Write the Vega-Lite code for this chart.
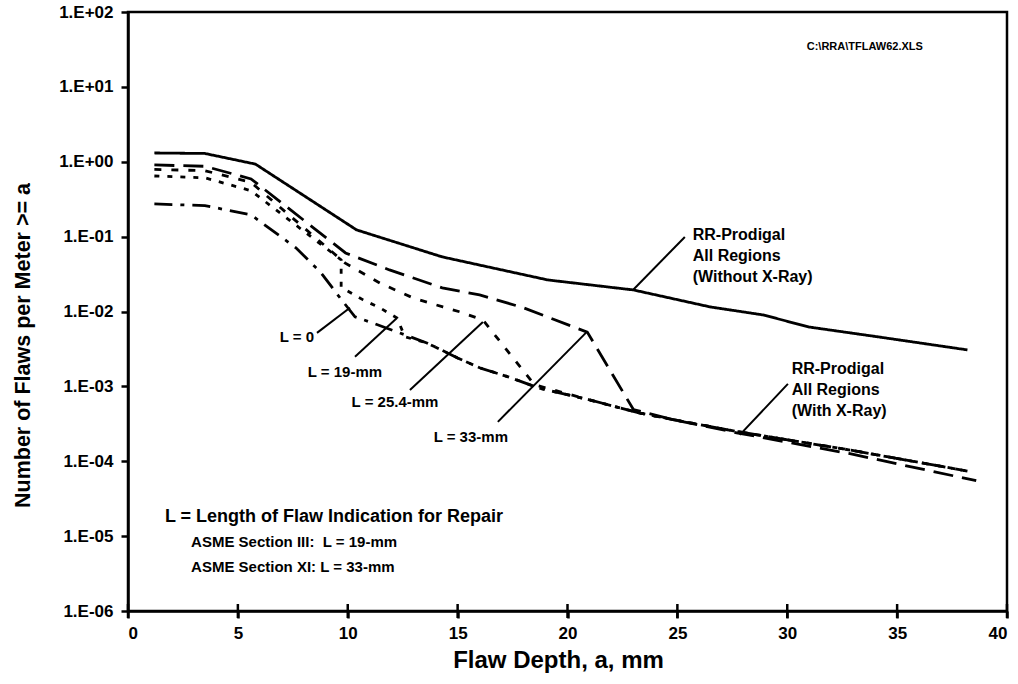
{
  "$schema": "https://vega.github.io/schema/vega-lite/v6.json",
  "width": 879,
  "height": 599,
  "autosize": {"type": "none"},
  "padding": {"left": 128, "top": 12, "right": 11, "bottom": 73},
  "background": "white",
  "config": {
    "font": "Liberation Sans",
    "view": {"stroke": "black", "strokeWidth": 2.5},
    "axis": {"domainColor": "black", "domainWidth": 2.5, "tickColor": "black", "tickWidth": 2.5, "labelColor": "black", "titleColor": "black", "labelFont": "Liberation Sans", "titleFont": "Liberation Sans", "labelFontWeight": "bold", "titleFontWeight": "bold", "grid": false}
  },
  "datasets": {
    "curves": [
      {"series": "Without X-Ray", "i": 1, "depth": 1.2, "n": 1.31},
      {"series": "Without X-Ray", "i": 2, "depth": 3.5, "n": 1.29},
      {"series": "Without X-Ray", "i": 3, "depth": 5.8, "n": 0.93},
      {"series": "Without X-Ray", "i": 4, "depth": 10.4, "n": 0.123},
      {"series": "Without X-Ray", "i": 5, "depth": 14.3, "n": 0.0536},
      {"series": "Without X-Ray", "i": 6, "depth": 19.1, "n": 0.0264},
      {"series": "Without X-Ray", "i": 7, "depth": 23.0, "n": 0.0194},
      {"series": "Without X-Ray", "i": 8, "depth": 26.5, "n": 0.0115},
      {"series": "Without X-Ray", "i": 9, "depth": 28.9, "n": 0.009},
      {"series": "Without X-Ray", "i": 10, "depth": 31.0, "n": 0.0062},
      {"series": "Without X-Ray", "i": 11, "depth": 34.1, "n": 0.0046},
      {"series": "Without X-Ray", "i": 12, "depth": 38.2, "n": 0.00307},

      {"series": "L = 33-mm", "i": 1, "depth": 1.2, "n": 0.906},
      {"series": "L = 33-mm", "i": 2, "depth": 3.5, "n": 0.87},
      {"series": "L = 33-mm", "i": 3, "depth": 5.6, "n": 0.59},
      {"series": "L = 33-mm", "i": 4, "depth": 9.9, "n": 0.0605},
      {"series": "L = 33-mm", "i": 5, "depth": 11.9, "n": 0.0359},
      {"series": "L = 33-mm", "i": 6, "depth": 14.3, "n": 0.0207},
      {"series": "L = 33-mm", "i": 7, "depth": 16.0, "n": 0.0167},
      {"series": "L = 33-mm", "i": 8, "depth": 18.0, "n": 0.0112},
      {"series": "L = 33-mm", "i": 9, "depth": 20.9, "n": 0.0053},
      {"series": "L = 33-mm", "i": 10, "depth": 23.0, "n": 0.00049},
      {"series": "L = 33-mm", "i": 11, "depth": 24.8, "n": 0.00036},
      {"series": "L = 33-mm", "i": 12, "depth": 27.7, "n": 0.00024},
      {"series": "L = 33-mm", "i": 13, "depth": 32.8, "n": 0.000127},
      {"series": "L = 33-mm", "i": 14, "depth": 38.6, "n": 0.000055},

      {"series": "L = 25.4-mm", "i": 1, "depth": 1.2, "n": 0.79},
      {"series": "L = 25.4-mm", "i": 2, "depth": 3.5, "n": 0.76},
      {"series": "L = 25.4-mm", "i": 3, "depth": 5.6, "n": 0.53},
      {"series": "L = 25.4-mm", "i": 4, "depth": 9.87, "n": 0.0446},
      {"series": "L = 25.4-mm", "i": 5, "depth": 11.46, "n": 0.024},
      {"series": "L = 25.4-mm", "i": 6, "depth": 12.97, "n": 0.0152},
      {"series": "L = 25.4-mm", "i": 7, "depth": 14.33, "n": 0.0115},
      {"series": "L = 25.4-mm", "i": 8, "depth": 15.1, "n": 0.0099},
      {"series": "L = 25.4-mm", "i": 9, "depth": 16.15, "n": 0.0077},
      {"series": "L = 25.4-mm", "i": 10, "depth": 18.5, "n": 0.00105},
      {"series": "L = 25.4-mm", "i": 11, "depth": 21.0, "n": 0.00066},
      {"series": "L = 25.4-mm", "i": 12, "depth": 23.3, "n": 0.00044},
      {"series": "L = 25.4-mm", "i": 13, "depth": 24.8, "n": 0.00036},
      {"series": "L = 25.4-mm", "i": 14, "depth": 27.7, "n": 0.00025},
      {"series": "L = 25.4-mm", "i": 15, "depth": 32.8, "n": 0.000142},
      {"series": "L = 25.4-mm", "i": 16, "depth": 38.2, "n": 0.000074},

      {"series": "L = 19-mm", "i": 1, "depth": 1.2, "n": 0.645},
      {"series": "L = 19-mm", "i": 2, "depth": 3.5, "n": 0.61},
      {"series": "L = 19-mm", "i": 3, "depth": 5.6, "n": 0.41},
      {"series": "L = 19-mm", "i": 4, "depth": 9.7, "n": 0.049},
      {"series": "L = 19-mm", "i": 5, "depth": 9.7, "n": 0.021},
      {"series": "L = 19-mm", "i": 6, "depth": 10.7, "n": 0.0143},
      {"series": "L = 19-mm", "i": 7, "depth": 11.46, "n": 0.0112},
      {"series": "L = 19-mm", "i": 8, "depth": 12.24, "n": 0.0082},
      {"series": "L = 19-mm", "i": 9, "depth": 12.6, "n": 0.0046},
      {"series": "L = 19-mm", "i": 10, "depth": 13.6, "n": 0.0038},
      {"series": "L = 19-mm", "i": 11, "depth": 15.0, "n": 0.0024},
      {"series": "L = 19-mm", "i": 12, "depth": 16.0, "n": 0.00177},
      {"series": "L = 19-mm", "i": 13, "depth": 17.3, "n": 0.00134},
      {"series": "L = 19-mm", "i": 14, "depth": 18.7, "n": 0.00095},
      {"series": "L = 19-mm", "i": 15, "depth": 21.0, "n": 0.00066},
      {"series": "L = 19-mm", "i": 16, "depth": 23.3, "n": 0.00044},
      {"series": "L = 19-mm", "i": 17, "depth": 24.8, "n": 0.00036},
      {"series": "L = 19-mm", "i": 18, "depth": 27.7, "n": 0.00025},
      {"series": "L = 19-mm", "i": 19, "depth": 32.8, "n": 0.000142},
      {"series": "L = 19-mm", "i": 20, "depth": 38.2, "n": 0.000074},

      {"series": "L = 0", "i": 1, "depth": 1.2, "n": 0.273},
      {"series": "L = 0", "i": 2, "depth": 3.5, "n": 0.26},
      {"series": "L = 0", "i": 3, "depth": 5.6, "n": 0.195},
      {"series": "L = 0", "i": 4, "depth": 7.64, "n": 0.071},
      {"series": "L = 0", "i": 5, "depth": 8.78, "n": 0.033},
      {"series": "L = 0", "i": 6, "depth": 9.65, "n": 0.0152},
      {"series": "L = 0", "i": 7, "depth": 10.33, "n": 0.0085},
      {"series": "L = 0", "i": 8, "depth": 11.15, "n": 0.007},
      {"series": "L = 0", "i": 9, "depth": 13.6, "n": 0.0038},
      {"series": "L = 0", "i": 10, "depth": 15.0, "n": 0.0024},
      {"series": "L = 0", "i": 11, "depth": 16.0, "n": 0.00177},
      {"series": "L = 0", "i": 12, "depth": 17.3, "n": 0.00134},
      {"series": "L = 0", "i": 13, "depth": 18.7, "n": 0.00095},
      {"series": "L = 0", "i": 14, "depth": 21.0, "n": 0.00066},
      {"series": "L = 0", "i": 15, "depth": 23.3, "n": 0.00044},
      {"series": "L = 0", "i": 16, "depth": 24.8, "n": 0.00036},
      {"series": "L = 0", "i": 17, "depth": 27.7, "n": 0.00025},
      {"series": "L = 0", "i": 18, "depth": 32.8, "n": 0.000142},
      {"series": "L = 0", "i": 19, "depth": 38.2, "n": 0.000074}
    ],
    "leaders": [
      {"depth": 22.98, "n": 0.0194, "depth2": 25.34, "n2": 0.099},
      {"depth": 27.84, "n": 0.000225, "depth2": 30.03, "n2": 0.00108},
      {"depth": 8.6, "n": 0.00518, "depth2": 10.1, "n2": 0.0112},
      {"depth": 10.33, "n": 0.00248, "depth2": 12.24, "n2": 0.0082},
      {"depth": 12.83, "n": 0.000897, "depth2": 16.15, "n2": 0.00726},
      {"depth": 16.83, "n": 0.000336, "depth2": 20.88, "n2": 0.00535}
    ],
    "llabels": [
      {"label": "L = 0", "depth": 7.69, "n": 0.00458},
      {"label": "L = 19-mm", "depth": 9.87, "n": 0.00156},
      {"label": "L = 25.4-mm", "depth": 12.15, "n": 0.00062},
      {"label": "L = 33-mm", "depth": 15.6, "n": 0.000212}
    ],
    "blocks": [
      {"label": "RR-Prodigal\nAll Regions\n(Without X-Ray)", "depth": 25.7, "n": 0.135},
      {"label": "RR-Prodigal\nAll Regions\n(With X-Ray)", "depth": 30.2, "n": 0.00219}
    ],
    "filename": [
      {"label": "C:\\RRA\\TFLAW62.XLS", "depth": 33.53, "n": 34.1}
    ],
    "notehead": [
      {"label": "L = Length of Flaw Indication for Repair", "depth": 1.68, "n": 0.0000181}
    ],
    "notes": [
      {"label": "ASME Section III:\u00a0 L = 19-mm", "depth": 2.87, "n": 0.0000084},
      {"label": "ASME Section XI: L = 33-mm", "depth": 2.87, "n": 0.0000039}
    ],
    "xticks": [
      {"depth": 0, "n": 0.000001}, {"depth": 5, "n": 0.000001}, {"depth": 10, "n": 0.000001},
      {"depth": 15, "n": 0.000001}, {"depth": 20, "n": 0.000001}, {"depth": 25, "n": 0.000001},
      {"depth": 30, "n": 0.000001}, {"depth": 35, "n": 0.000001}, {"depth": 40, "n": 0.000001}
    ]
  },
  "layer": [
    {
      "data": {"name": "curves"},
      "mark": {"type": "line", "color": "black", "strokeWidth": 2.8, "clip": true},
      "encoding": {
        "x": {
          "field": "depth", "type": "quantitative",
          "scale": {"domain": [0, 40], "nice": false, "zero": false},
          "axis": {
            "values": [0, 5, 10, 15, 20, 25, 30, 35, 40],
            "title": "Flaw Depth, a, mm",
            "titleFontSize": 24,
            "titleX": 430,
            "labelFontSize": 17,
            "tickSize": 7,
            "labelPadding": 7,
            "titlePadding": 7
          }
        },
        "y": {
          "field": "n", "type": "quantitative",
          "scale": {"type": "log", "domain": [0.000001, 100], "nice": false},
          "axis": {
            "values": [0.000001, 0.00001, 0.0001, 0.001, 0.01, 0.1, 1, 10, 100],
            "labelExpr": "'1.E' + (datum.value >= 1 ? '+' : '-') + format(abs(round(log(datum.value) / LN10)), '02d')",
            "title": "Number of Flaws per Meter >= a",
            "titleFontSize": 21.5,
            "titleY": 333,
            "labelFontSize": 17,
            "tickSize": 7,
            "labelPadding": 8,
            "titlePadding": 24
          }
        },
        "detail": {"field": "series"},
        "order": {"field": "i"},
        "strokeDash": {
          "field": "series", "type": "nominal",
          "scale": {
            "domain": ["Without X-Ray", "L = 33-mm", "L = 25.4-mm", "L = 19-mm", "L = 0"],
            "range": [[1, 0], [20, 9], [7, 10], [5, 8], [18, 8, 4, 8]]
          },
          "legend": null
        }
      }
    },
    {
      "data": {"name": "xticks"},
      "mark": {"type": "tick", "color": "black", "orient": "vertical", "size": 14, "thickness": 2.5, "opacity": 1},
      "encoding": {
        "x": {"field": "depth", "type": "quantitative"},
        "y": {"field": "n", "type": "quantitative"}
      }
    },
    {
      "data": {"name": "leaders"},
      "mark": {"type": "rule", "color": "black", "strokeWidth": 2},
      "encoding": {
        "x": {"field": "depth", "type": "quantitative"},
        "y": {"field": "n", "type": "quantitative"},
        "x2": {"field": "depth2"},
        "y2": {"field": "n2"}
      }
    },
    {
      "data": {"name": "llabels"},
      "mark": {"type": "text", "font": "Liberation Sans", "fontWeight": "bold", "fontSize": 15, "align": "center", "baseline": "middle", "color": "black"},
      "encoding": {
        "x": {"field": "depth", "type": "quantitative"},
        "y": {"field": "n", "type": "quantitative"},
        "text": {"field": "label"}
      }
    },
    {
      "data": {"name": "blocks"},
      "mark": {"type": "text", "font": "Liberation Sans", "fontWeight": "bold", "fontSize": 16, "align": "left", "baseline": "top", "lineBreak": "\n", "lineHeight": 21, "color": "black"},
      "encoding": {
        "x": {"field": "depth", "type": "quantitative"},
        "y": {"field": "n", "type": "quantitative"},
        "text": {"field": "label"}
      }
    },
    {
      "data": {"name": "filename"},
      "mark": {"type": "text", "font": "Liberation Sans", "fontWeight": "bold", "fontSize": 11, "align": "center", "baseline": "middle", "color": "black"},
      "encoding": {
        "x": {"field": "depth", "type": "quantitative"},
        "y": {"field": "n", "type": "quantitative"},
        "text": {"field": "label"}
      }
    },
    {
      "data": {"name": "notehead"},
      "mark": {"type": "text", "font": "Liberation Sans", "fontWeight": "bold", "fontSize": 18, "align": "left", "baseline": "middle", "color": "black"},
      "encoding": {
        "x": {"field": "depth", "type": "quantitative"},
        "y": {"field": "n", "type": "quantitative"},
        "text": {"field": "label"}
      }
    },
    {
      "data": {"name": "notes"},
      "mark": {"type": "text", "font": "Liberation Sans", "fontWeight": "bold", "fontSize": 15, "align": "left", "baseline": "middle", "color": "black"},
      "encoding": {
        "x": {"field": "depth", "type": "quantitative"},
        "y": {"field": "n", "type": "quantitative"},
        "text": {"field": "label"}
      }
    }
  ]
}
